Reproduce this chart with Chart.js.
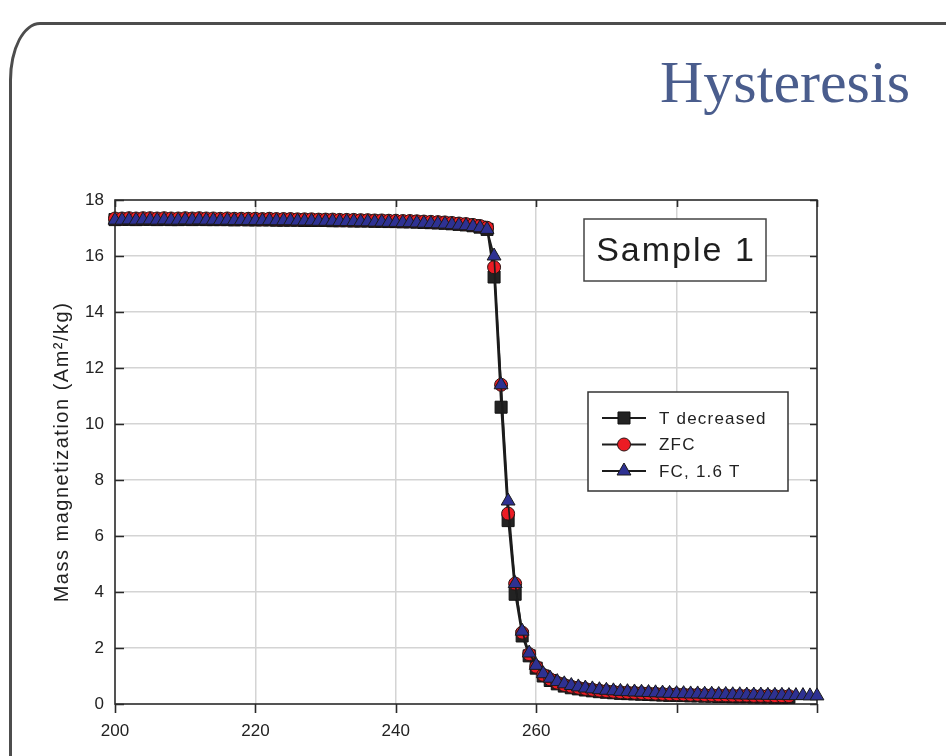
<!DOCTYPE html>
<html>
<head>
<meta charset="utf-8">
<script src="https://cdn.jsdelivr.net/npm/chart.js@4"></script>
<style>
  body { margin: 0; background: #fff; width: 946px; height: 756px; overflow: hidden; position: relative; }
  #slide { position: absolute; left: 9px; top: 22px; width: 1000px; height: 800px; border: 3px solid #4d4d4d;
           border-top-left-radius: 31px 58px; box-sizing: border-box; }
  #heading { position: absolute; right: 36px; top: 52px; margin: 0; font: 400 60px/60px "Liberation Serif", "Times New Roman", serif; color: #4a5d8d; }
  #chart { position: absolute; left: 0; top: 0; }
</style>
</head>
<body>
<div id="slide"></div>
<h1 id="heading">Hysteresis</h1>
<canvas id="chart" width="946" height="756"></canvas>
<script>
// temperature in K, magnetization in Am2/kg
const temperature = [
  200,201,202,203,204,205,206,207,208,209,
  210,211,212,213,214,215,216,217,218,219,
  220,221,222,223,224,225,226,227,228,229,
  230,231,232,233,234,235,236,237,238,239,
  240,241,242,243,244,245,246,247,248,249,
  250,251,252,253,254,255,256,257,258,259,
  260,261,262,263,264,265,266,267,268,269,
  270,271,272,273,274,275,276,277,278,279,
  280,281,282,283,284,285,286,287,288,289,
  290,291,292,293,294,295,296,297,298,299,
  300
];

const tDecreased = [
  17.30,17.31,17.31,17.30,17.31,17.31,17.30,17.31,17.30,17.30,
  17.31,17.30,17.31,17.30,17.30,17.30,17.30,17.29,17.30,17.29,
  17.29,17.29,17.29,17.28,17.28,17.28,17.28,17.27,17.27,17.27,
  17.27,17.26,17.26,17.26,17.25,17.25,17.25,17.24,17.24,17.23,
  17.23,17.22,17.22,17.21,17.20,17.19,17.18,17.17,17.15,17.13,
  17.11,17.08,17.03,16.95,15.25,10.60,6.55,3.92,2.43,1.72,
  1.28,1.00,0.84,0.72,0.64,0.58,0.54,0.50,0.47,0.44,
  0.42,0.40,0.38,0.37,0.36,0.35,0.34,0.33,0.32,0.31,
  0.31,0.30,0.29,0.29,0.28,0.28,0.27,0.27,0.26,0.26,
  0.26,0.25,0.25,0.25,0.24,0.24,0.24
];

const zfc = [
  17.34,17.34,17.35,17.34,17.35,17.35,17.34,17.35,17.34,17.34,
  17.35,17.34,17.35,17.34,17.34,17.33,17.34,17.33,17.33,17.33,
  17.33,17.32,17.33,17.32,17.32,17.32,17.31,17.31,17.31,17.30,
  17.30,17.30,17.29,17.29,17.29,17.28,17.28,17.27,17.27,17.26,
  17.26,17.25,17.25,17.24,17.23,17.22,17.21,17.20,17.18,17.16,
  17.14,17.11,17.07,17.01,15.60,11.40,6.80,4.30,2.55,1.78,
  1.33,1.04,0.88,0.76,0.68,0.62,0.58,0.54,0.51,0.48,
  0.46,0.44,0.42,0.41,0.40,0.39,0.38,0.37,0.36,0.35,
  0.35,0.34,0.33,0.33,0.32,0.32,0.31,0.31,0.30,0.30,
  0.30,0.29,0.29,0.29,0.28,0.28,0.28
];

const fc16 = [
  17.28,17.28,17.29,17.28,17.29,17.29,17.28,17.29,17.28,17.28,
  17.29,17.28,17.29,17.28,17.28,17.27,17.28,17.27,17.27,17.27,
  17.27,17.26,17.27,17.26,17.26,17.26,17.25,17.25,17.25,17.24,
  17.24,17.24,17.23,17.23,17.23,17.22,17.22,17.21,17.21,17.20,
  17.20,17.19,17.19,17.18,17.17,17.16,17.15,17.14,17.12,17.10,
  17.08,17.05,17.01,16.95,16.00,11.40,7.25,4.30,2.60,1.82,
  1.38,1.08,0.92,0.80,0.72,0.66,0.61,0.57,0.54,0.51,
  0.49,0.47,0.45,0.44,0.43,0.42,0.41,0.40,0.39,0.38,
  0.37,0.37,0.36,0.36,0.35,0.35,0.34,0.34,0.33,0.33,
  0.32,0.32,0.32,0.31,0.31,0.31,0.30,0.30,0.30,0.29,
  0.29
];

const xTickLabels = ["200", "220", "240", "260"];
const seriesNames = ["T decreased", "ZFC", "FC, 1.6 T"];
const sampleName = "Sample 1";
const yTitle = "Mass magnetization (Am\u00b2/kg)";

const FONT = '"Liberation Sans", Arial, sans-serif';

function toPoints(vals) {
  return vals.map((v, i) => ({ x: temperature[i], y: v }));
}

function hideEdges(lo, hi) {
  return c => (c.tick.value === lo || c.tick.value === hi) ? "rgba(0,0,0,0)" : "#d4d4d4";
}

// plot box + Origin style tick marks (inward on left/top/right, outward at bottom)
const axesFrame = {
  id: "axesFrame",
  beforeDatasetsDraw(chart) {
    const { ctx, chartArea: a, scales } = chart;
    ctx.save();
    ctx.strokeStyle = "#2a2a2a";
    ctx.lineWidth = 1.6;
    ctx.strokeRect(a.left, a.top, a.right - a.left, a.bottom - a.top);
    ctx.beginPath();
    scales.x.ticks.forEach(t => {
      const px = Math.round(scales.x.getPixelForValue(t.value)) + 0.5;
      ctx.moveTo(px, a.bottom); ctx.lineTo(px, a.bottom + 9);
      ctx.moveTo(px, a.top); ctx.lineTo(px, a.top + 7);
    });
    scales.y.ticks.forEach(t => {
      const py = Math.round(scales.y.getPixelForValue(t.value)) + 0.5;
      ctx.moveTo(a.left, py); ctx.lineTo(a.left + 9, py);
      ctx.moveTo(a.right, py); ctx.lineTo(a.right - 7, py);
    });
    ctx.stroke();
    ctx.restore();
  },
  afterDraw(chart) {
    const { ctx, chartArea: a } = chart;
    ctx.save();
    ctx.fillStyle = "#222";

    // y axis title
    ctx.translate(62, (a.top + a.bottom) / 2);
    ctx.rotate(-Math.PI / 2);
    ctx.font = "20px " + FONT;
    ctx.letterSpacing = "1.5px";
    ctx.textAlign = "center";
    ctx.textBaseline = "middle";
    ctx.fillText(yTitle, 0, 0);
    ctx.restore();

    // sample label box
    ctx.save();
    const sx = a.left + 469, sy = a.top + 19;
    ctx.fillStyle = "#fff";
    ctx.fillRect(sx, sy, 182, 62);
    ctx.strokeStyle = "#444";
    ctx.lineWidth = 1.5;
    ctx.strokeRect(sx, sy, 182, 62);
    ctx.fillStyle = "#1e1e1e";
    ctx.font = "34px " + FONT;
    ctx.letterSpacing = "2px";
    ctx.textAlign = "center";
    ctx.textBaseline = "middle";
    ctx.fillText(sampleName, sx + 92, sy + 33);
    ctx.restore();

    // legend box
    ctx.save();
    const lx = a.left + 473, ly = a.top + 192;
    ctx.fillStyle = "#fff";
    ctx.fillRect(lx, ly, 200, 99);
    ctx.strokeStyle = "#333";
    ctx.lineWidth = 1.5;
    ctx.strokeRect(lx, ly, 200, 99);
    chart.data.datasets.forEach((ds, i) => {
      const ry = ly + 26 + i * 26.5;
      ctx.strokeStyle = ds.borderColor;
      ctx.lineWidth = 1.8;
      ctx.beginPath();
      ctx.moveTo(lx + 14, ry); ctx.lineTo(lx + 58, ry);
      ctx.stroke();
      ctx.fillStyle = ds.pointBackgroundColor;
      ctx.strokeStyle = ds.pointBorderColor;
      ctx.lineWidth = 1;
      Chart.helpers.drawPoint(ctx, { pointStyle: ds.pointStyle, radius: ds.pointRadius, rotation: 0, borderWidth: 1 }, lx + 36, ry);
      ctx.fillStyle = "#222";
      ctx.font = "17px " + FONT;
      ctx.letterSpacing = "1.2px";
      ctx.textAlign = "left";
      ctx.textBaseline = "middle";
      ctx.fillText(ds.label, lx + 71, ry + 1);
    });
    ctx.restore();
  }
};

new Chart(document.getElementById("chart"), {
  type: "line",
  data: {
    datasets: [
      {
        label: seriesNames[0], data: toPoints(tDecreased), order: 3,
        borderColor: "#1c1c1c", borderWidth: 1.7,
        pointStyle: "rect", pointRadius: 8.5,
        pointBackgroundColor: "#232323", pointBorderColor: "#111", pointBorderWidth: 1
      },
      {
        label: seriesNames[1], data: toPoints(zfc), order: 2,
        borderColor: "#1c1c1c", borderWidth: 1.7,
        pointStyle: "circle", pointRadius: 6.5,
        pointBackgroundColor: "#ec1c24", pointBorderColor: "#2a1414", pointBorderWidth: 1
      },
      {
        label: seriesNames[2], data: toPoints(fc16), order: 1,
        borderColor: "#1c1c1c", borderWidth: 1.7,
        pointStyle: "triangle", pointRadius: 8,
        pointBackgroundColor: "#2e3192", pointBorderColor: "#1a1a1a", pointBorderWidth: 1
      }
    ]
  },
  options: {
    responsive: false,
    animation: false,
    events: [],
    clip: false,
    elements: { line: { tension: 0 } },
    layout: { padding: { left: 0, top: 200, right: 129, bottom: 0 } },
    plugins: { legend: { display: false }, tooltip: { enabled: false } },
    scales: {
      x: {
        type: "linear", min: 200, max: 300,
        afterFit: s => { s.height = 52; },
        border: { display: false },
        grid: { color: hideEdges(200, 300), lineWidth: 1.5, drawTicks: false },
        ticks: {
          stepSize: 20, autoSkip: false, maxRotation: 0, padding: 17,
          color: "#222", font: { family: FONT, size: 17 },
          callback: v => xTickLabels.includes(String(v)) ? String(v) : ""
        }
      },
      y: {
        min: 0, max: 18,
        afterFit: s => { s.width = 115; },
        border: { display: false },
        grid: { color: hideEdges(0, 18), lineWidth: 1.5, drawTicks: false },
        ticks: {
          stepSize: 2, padding: 11,
          color: "#222", font: { family: FONT, size: 17 }
        }
      }
    }
  },
  plugins: [axesFrame]
});
</script>
</body>
</html>
